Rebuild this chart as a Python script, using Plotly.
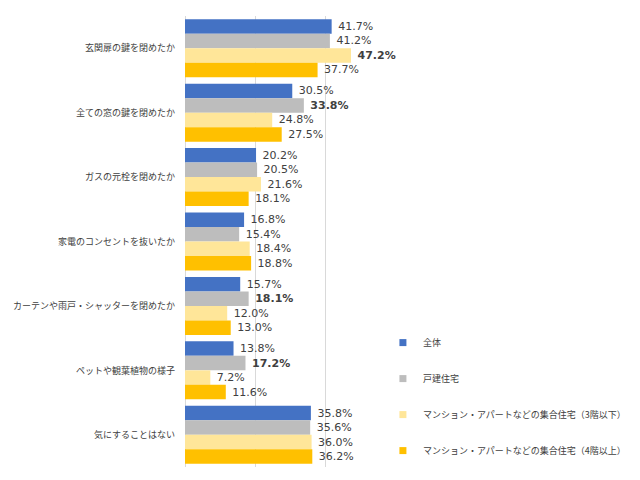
import plotly.graph_objects as go

categories = ["玄関扉の鍵を閉めたか", "全ての窓の鍵を閉めたか", "ガスの元栓を閉めたか",
              "家電のコンセントを抜いたか", "カーテンや雨戸・シャッターを閉めたか",
              "ペットや観葉植物の様子", "気にすることはない"]
series_names = ["全体", "戸建住宅", "マンション・アパートなどの集合住宅（3階以下）",
                "マンション・アパートなどの集合住宅（4階以上）"]
all_vals = [41.7, 30.5, 20.2, 16.8, 15.7, 13.8, 35.8]
house_vals = [41.2, 33.8, 20.5, 15.4, 18.1, 17.2, 35.6]
low_vals = [47.2, 24.8, 21.6, 18.4, 12.0, 7.2, 36.0]
high_vals = [37.7, 27.5, 18.1, 18.8, 13.0, 11.6, 36.2]
bold_all = [False] * 7
bold_house = [False, True, False, False, True, True, False]
bold_low = [True, False, False, False, False, False, False]
bold_high = [False] * 7

colors = ["#4472C4", "#BDBDBD", "#FFE699", "#FFC000"]
series = [all_vals, house_vals, low_vals, high_vals]
bolds = [bold_all, bold_house, bold_low, bold_high]

font_jp = "Noto Sans CJK JP"
fig = go.Figure()
for name, vals, bl, col in zip(series_names, series, bolds, colors):
    texts = [(" <b>%.1f%%</b>" % v) if b else (" %.1f%%" % v) for v, b in zip(vals, bl)]
    fig.add_trace(go.Bar(
        y=categories, x=vals, orientation="h", name=name,
        marker=dict(color=col, line=dict(width=0)),
        text=texts, textposition="outside", cliponaxis=False,
        textfont=dict(family="DejaVu Sans", size=11, color="#404040"),
        showlegend=False, hoverinfo="skip"))
    fig.add_trace(go.Scatter(
        x=[None], y=[None], mode="markers", name=name,
        marker=dict(symbol="square", size=7, color=col),
        legendgroup=name, showlegend=True))

# page body has an 8px default margin, so the figure is 632x472
fig.update_layout(
    width=632, height=472,
    margin=dict(l=177, r=244, t=8, b=13, autoexpand=False),
    paper_bgcolor="white", plot_bgcolor="white",
    barmode="group", bargap=0.1, bargroupgap=0,
    font=dict(family=font_jp, size=9, color="#404040"),
    legend=dict(x=0.938, xanchor="left", y=0.308, yanchor="top",
                tracegroupgap=17, itemwidth=30,
                font=dict(family=font_jp, size=9, color="#404040"),
                bgcolor="rgba(0,0,0,0)"),
    xaxis=dict(range=[0, 60], dtick=20, showticklabels=False, showgrid=True,
               gridcolor="#D9D9D9", zeroline=True, zerolinecolor="#D9D9D9",
               zerolinewidth=1, fixedrange=True, automargin=False),
    yaxis=dict(autorange="reversed", ticklabelstandoff=9, showgrid=False,
               automargin=False,
               tickfont=dict(family=font_jp, size=9, color="#404040")),
)
fig.write_html("out.html")
